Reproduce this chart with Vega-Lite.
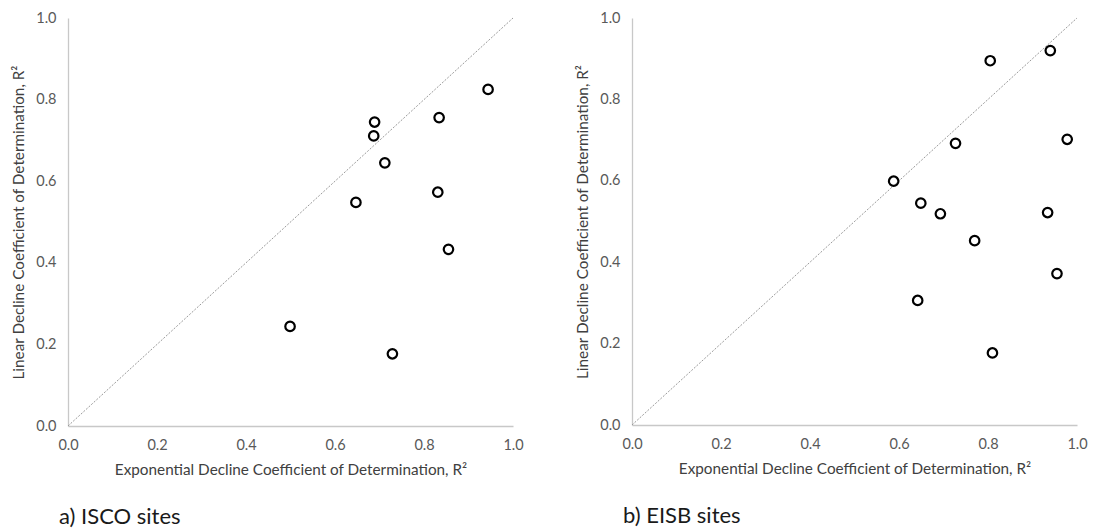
{
  "$schema": "https://vega.github.io/schema/vega-lite/v6.json",
  "background": "white",
  "padding": {"left": 11, "top": 10, "right": 5, "bottom": 0},
  "spacing": 51,
  "datasets": {
    "isco": [
      {"exp_r2": 0.944, "lin_r2": 0.825},
      {"exp_r2": 0.834, "lin_r2": 0.756},
      {"exp_r2": 0.689, "lin_r2": 0.745},
      {"exp_r2": 0.687, "lin_r2": 0.711},
      {"exp_r2": 0.712, "lin_r2": 0.645},
      {"exp_r2": 0.647, "lin_r2": 0.548},
      {"exp_r2": 0.831, "lin_r2": 0.573},
      {"exp_r2": 0.855, "lin_r2": 0.433},
      {"exp_r2": 0.499, "lin_r2": 0.244},
      {"exp_r2": 0.729, "lin_r2": 0.177}
    ],
    "eisb": [
      {"exp_r2": 0.940, "lin_r2": 0.920},
      {"exp_r2": 0.805, "lin_r2": 0.895},
      {"exp_r2": 0.978, "lin_r2": 0.702},
      {"exp_r2": 0.727, "lin_r2": 0.692},
      {"exp_r2": 0.588, "lin_r2": 0.599},
      {"exp_r2": 0.649, "lin_r2": 0.545},
      {"exp_r2": 0.693, "lin_r2": 0.519},
      {"exp_r2": 0.934, "lin_r2": 0.522},
      {"exp_r2": 0.770, "lin_r2": 0.453},
      {"exp_r2": 0.642, "lin_r2": 0.306},
      {"exp_r2": 0.955, "lin_r2": 0.372},
      {"exp_r2": 0.810, "lin_r2": 0.177}
    ],
    "one_to_one": [
      {"exp_r2": 0, "lin_r2": 0},
      {"exp_r2": 1, "lin_r2": 1}
    ]
  },
  "config": {
    "font": "Lato",
    "view": {"stroke": null},
    "axis": {
      "grid": false,
      "ticks": false,
      "labelFlush": false,
      "domainColor": "#c8c8c8",
      "domainWidth": 1.3,
      "labelColor": "#595959",
      "labelFontSize": 14.5,
      "labelFont": "Lato",
      "titleFont": "Lato",
      "titleFontSize": 15.3,
      "titleFontWeight": "normal",
      "titleColor": "#404040"
    },
    "axisX": {"labelPadding": 12, "titlePadding": 11},
    "axisY": {"labelPadding": 12, "titlePadding": 9},
    "title": {
      "orient": "bottom",
      "anchor": "start",
      "frame": "group",
      "fontSize": 22,
      "fontWeight": "normal",
      "font": "Lato",
      "color": "#1a1a1a",
      "offset": 29,
      "dx": -9
    }
  },
  "hconcat": [
    {
      "title": "a) ISCO sites",
      "width": 445,
      "height": 408,
      "layer": [
        {
          "data": {"name": "one_to_one"},
          "mark": {"type": "line", "color": "#9a9a9a", "strokeWidth": 1, "strokeDash": [2, 1.5]},
          "encoding": {
            "x": {"field": "exp_r2", "type": "quantitative", "scale": {"domain": [0, 1], "nice": false}, "axis": {"values": [0, 0.2, 0.4, 0.6, 0.8, 1.0], "format": ".1f"}, "title": "Exponential Decline Coefficient of Determination,  R²"},
            "y": {"field": "lin_r2", "type": "quantitative", "scale": {"domain": [0, 1], "nice": false}, "axis": {"values": [0, 0.2, 0.4, 0.6, 0.8, 1.0], "format": ".1f"}, "title": "Linear Decline Coefficient of Determination,  R²"}
          }
        },
        {
          "data": {"name": "isco"},
          "mark": {"type": "point", "shape": "circle", "filled": false, "color": "black", "strokeWidth": 2.2, "size": 90, "opacity": 1},
          "encoding": {
            "x": {"field": "exp_r2", "type": "quantitative"},
            "y": {"field": "lin_r2", "type": "quantitative"}
          }
        }
      ]
    },
    {
      "title": "b) EISB sites",
      "width": 445,
      "height": 407,
      "layer": [
        {
          "data": {"name": "one_to_one"},
          "mark": {"type": "line", "color": "#9a9a9a", "strokeWidth": 1, "strokeDash": [2, 1.5]},
          "encoding": {
            "x": {"field": "exp_r2", "type": "quantitative", "scale": {"domain": [0, 1], "nice": false}, "axis": {"values": [0, 0.2, 0.4, 0.6, 0.8, 1.0], "format": ".1f"}, "title": "Exponential Decline Coefficient of Determination,  R²"},
            "y": {"field": "lin_r2", "type": "quantitative", "scale": {"domain": [0, 1], "nice": false}, "axis": {"values": [0, 0.2, 0.4, 0.6, 0.8, 1.0], "format": ".1f"}, "title": "Linear Decline Coefficient of Determination,  R²"}
          }
        },
        {
          "data": {"name": "eisb"},
          "mark": {"type": "point", "shape": "circle", "filled": false, "color": "black", "strokeWidth": 2.2, "size": 90, "opacity": 1},
          "encoding": {
            "x": {"field": "exp_r2", "type": "quantitative"},
            "y": {"field": "lin_r2", "type": "quantitative"}
          }
        }
      ]
    }
  ]
}
